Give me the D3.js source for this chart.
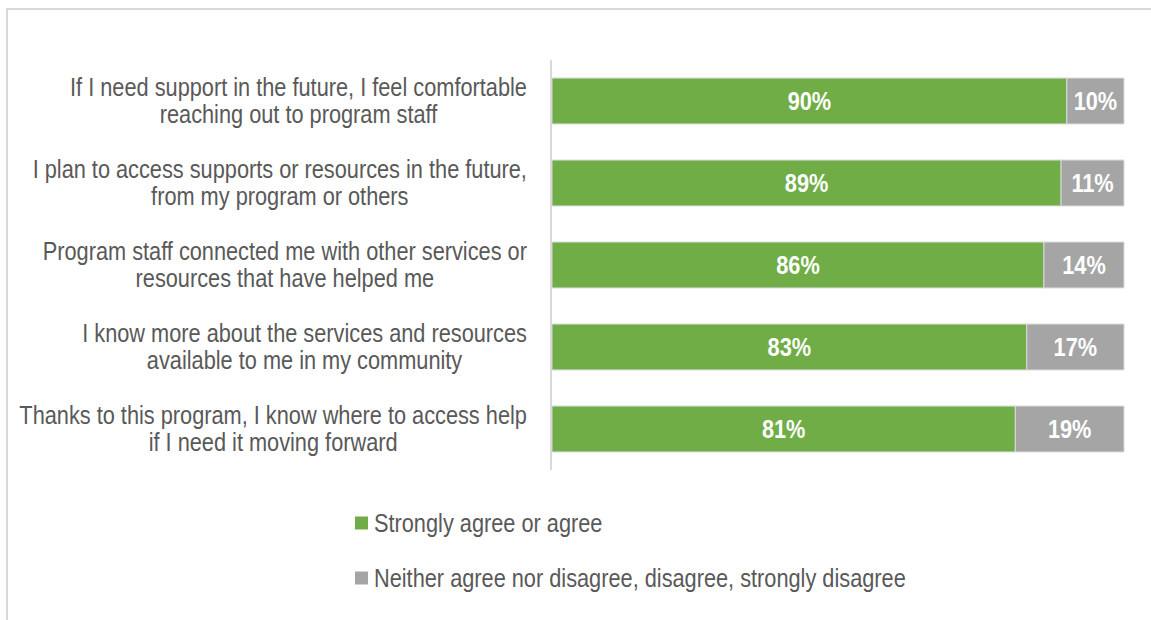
<!DOCTYPE html>
<html>
<head>
<meta charset="utf-8">
<script src="https://cdn.jsdelivr.net/npm/d3@7"></script>
<style>
  html, body { margin: 0; padding: 0; background: #ffffff; }
  svg { display: block; }
  text { font-family: "Liberation Sans Narrow", "Arial Narrow", "Liberation Sans", Arial, sans-serif; }
</style>
</head>
<body>
<svg id="chart" width="1151" height="620"></svg>
<script>
// Survey statements, each split into its two display lines
const statements = [
  ["If I need support in the future, I feel comfortable", "reaching out to program staff"],
  ["I plan to access supports or resources in the future,", "from my program or others"],
  ["Program staff connected me with other services or", "resources that have helped me"],
  ["I know more about the services and resources", "available to me in my community"],
  ["Thanks to this program, I know where to access help", "if I need it moving forward"]
];
const agree = [90, 89, 86, 83, 81];
const neutralOrDisagree = [10, 11, 14, 17, 19];
const seriesNames = [
  "Strongly agree or agree",
  "Neither agree nor disagree, disagree, strongly disagree"
];
const seriesColors = ["#70AD47", "#A5A5A5"];

const svg = d3.select("#chart");
const fontSize = 25;
const narrow = 0.87;          // horizontal squeeze for a condensed look
const textColor = "#595959";

// outer frame
svg.append("rect")
  .attr("x", 7).attr("y", 9)
  .attr("width", 1160).attr("height", 640)
  .attr("fill", "none")
  .attr("stroke", "#d9d9d9")
  .attr("stroke-width", 2);

const ids = statements.map((d, i) => i);

const y = d3.scaleBand()
  .domain(ids)
  .range([60, 470])
  .paddingInner(0.44)
  .paddingOuter(0.22);

const x = d3.scaleLinear()
  .domain([0, 100])
  .range([552, 1124]);

// stacked segments
const rows = ids.map(i => ({ id: i, a: agree[i], b: neutralOrDisagree[i] }));
const stack = d3.stack().keys(["a", "b"])(rows);

const layers = svg.append("g").selectAll("g")
  .data(stack)
  .join("g")
  .attr("fill", (d, k) => seriesColors[k]);

layers.selectAll("rect")
  .data(d => d)
  .join("rect")
  .attr("x", d => x(d[0]))
  .attr("y", d => y(d.data.id))
  .attr("width", d => x(d[1]) - x(d[0]))
  .attr("height", y.bandwidth())
  .attr("stroke", "#d9d9d9")
  .attr("stroke-width", 1);

// value labels centred in each segment
layers.selectAll("text")
  .data(d => d)
  .join("text")
  .attr("transform", d =>
    `translate(${(x(d[0]) + x(d[1])) / 2}, ${y(d.data.id) + y.bandwidth() / 2}) scale(${narrow}, 1)`)
  .attr("dy", "0.35em")
  .attr("text-anchor", "middle")
  .attr("fill", "#ffffff")
  .attr("font-weight", "bold")
  .attr("font-size", fontSize)
  .text(d => (d[1] - d[0]) + "%");

// category axis line
svg.append("line")
  .attr("x1", x(0) - 1).attr("x2", x(0) - 1)
  .attr("y1", y.range()[0]).attr("y2", y.range()[1])
  .attr("stroke", "#d9d9d9")
  .attr("stroke-width", 2);

// category labels: each block centred, block right edge near the axis
const labelRight = 527;
const lineGap = 27;
const labelG = svg.append("g");
ids.forEach(i => {
  const cy = y(i) + y.bandwidth() / 2;
  const g = labelG.append("g");
  const texts = g.selectAll("text")
    .data(statements[i])
    .join("text")
    .attr("y", (d, j) => (j - 0.5) * lineGap)
    .attr("dy", "0.35em")
    .attr("text-anchor", "middle")
    .attr("font-size", fontSize)
    .attr("fill", textColor)
    .text(d => d);
  const maxW = d3.max(texts.nodes(), n => n.getComputedTextLength()) * narrow;
  g.attr("transform", `translate(${labelRight - maxW / 2}, ${cy}) scale(${narrow}, 1)`);
});

// legend
const legend = svg.append("g").selectAll("g")
  .data(seriesNames)
  .join("g")
  .attr("transform", (d, k) => `translate(355, ${523 + k * 55})`);

legend.append("rect")
  .attr("x", 0).attr("y", -6.5)
  .attr("width", 13).attr("height", 13)
  .attr("fill", (d, k) => seriesColors[k]);

legend.append("text")
  .attr("transform", `translate(19, 0) scale(${narrow}, 1)`)
  .attr("dy", "0.35em")
  .attr("font-size", fontSize)
  .attr("fill", textColor)
  .text(d => d);
</script>
</body>
</html>
